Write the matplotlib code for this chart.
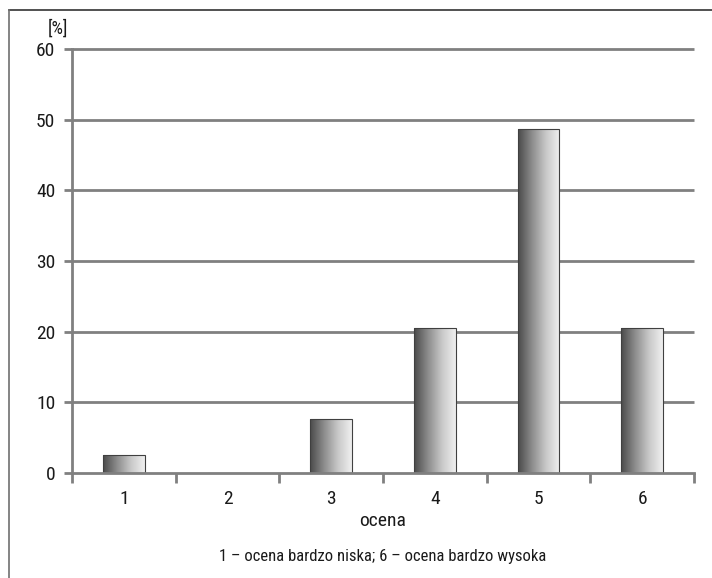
import numpy as np
import matplotlib
matplotlib.use("Agg")
import matplotlib.pyplot as plt
from matplotlib.lines import Line2D
from matplotlib import font_manager

categories = ["1", "2", "3", "4", "5", "6"]
values = [2.56, 0.0, 7.69, 20.51, 48.72, 20.51]
yticks = [0, 10, 20, 30, 40, 50, 60]

# pick a narrow face if one is installed
installed = {f.name for f in font_manager.fontManager.ttflist}
family = 'Roboto'
for cand in ['Roboto Condensed', 'Liberation Sans Narrow', 'Open Sans Condensed']:
    if cand in installed:
        family = cand
        break
plt.rcParams['font.family'] = [family, 'DejaVu Sans']

GRID = '#808080'
TXT = '#1a1a1a'

fig = plt.figure(figsize=(7.12, 5.78), dpi=100)
ax = fig.add_axes([72 / 712, 105 / 578, 622 / 712, 424 / 578])

x = np.arange(len(categories)) + 0.5
bars = ax.bar(x, values, width=0.405, color='none', edgecolor='#404040',
              linewidth=0.8, zorder=3)

# horizontal gradient inside each bar: dark left -> light right
grad = np.linspace(0, 1, 256).reshape(1, -1)
cmap = matplotlib.colors.LinearSegmentedColormap.from_list(
    'g', ['#4a4a4a', '#8c8c8c', '#c8c8c8', '#f0f0f0'])
for b in bars:
    h = b.get_height()
    if h <= 0:
        continue
    x0 = b.get_x()
    w = b.get_width()
    im = ax.imshow(grad, cmap=cmap, aspect='auto',
                   extent=[x0, x0 + w, 0, h], zorder=2, interpolation='bilinear')
    im.set_clip_path(b)

ax.set_xlim(0, 6)
ax.set_ylim(0, 60)
ax.set_yticks(yticks)
ax.set_xticks(np.arange(0, 7), minor=False)
ax.set_xticklabels([])
ax.set_xticks(x, minor=True)
ax.set_xticklabels(categories, minor=True)
ax.tick_params(axis='x', which='major', length=7, width=2, color=GRID)
ax.tick_params(axis='x', which='minor', length=0, pad=12, labelsize=14, labelcolor=TXT)
ax.tick_params(axis='y', length=6, width=2, color=GRID, labelsize=14, pad=6, labelcolor=TXT)

ax.hlines(yticks[1:], 0, 6, color=GRID, linewidth=2, zorder=1, clip_on=False)
for s in ['top', 'right']:
    ax.spines[s].set_visible(False)
for s in ['left', 'bottom']:
    ax.spines[s].set_color(GRID)
    ax.spines[s].set_linewidth(2)
ax.spines['bottom'].set_zorder(4)

ax.set_xlabel('ocena', fontsize=14, labelpad=3, color=TXT)
fig.text(48 / 712, 1 - 34 / 578, '[%]', fontsize=13, color=TXT, va='baseline')
fig.text(383 / 712, 1 - 556 / 578, '1 – ocena bardzo niska; 6 – ocena bardzo wysoka',
         ha='center', va='center', fontsize=12, color=TXT)

# frame: top and left only
fig.add_artist(Line2D([9 / 712, 1], [1 - 10 / 578, 1 - 10 / 578],
                      transform=fig.transFigure, color='#333333', linewidth=1.2))
fig.add_artist(Line2D([9 / 712, 9 / 712], [0, 1 - 10 / 578],
                      transform=fig.transFigure, color='#707070', linewidth=1.2))

fig.savefig('out.png', dpi=100)
